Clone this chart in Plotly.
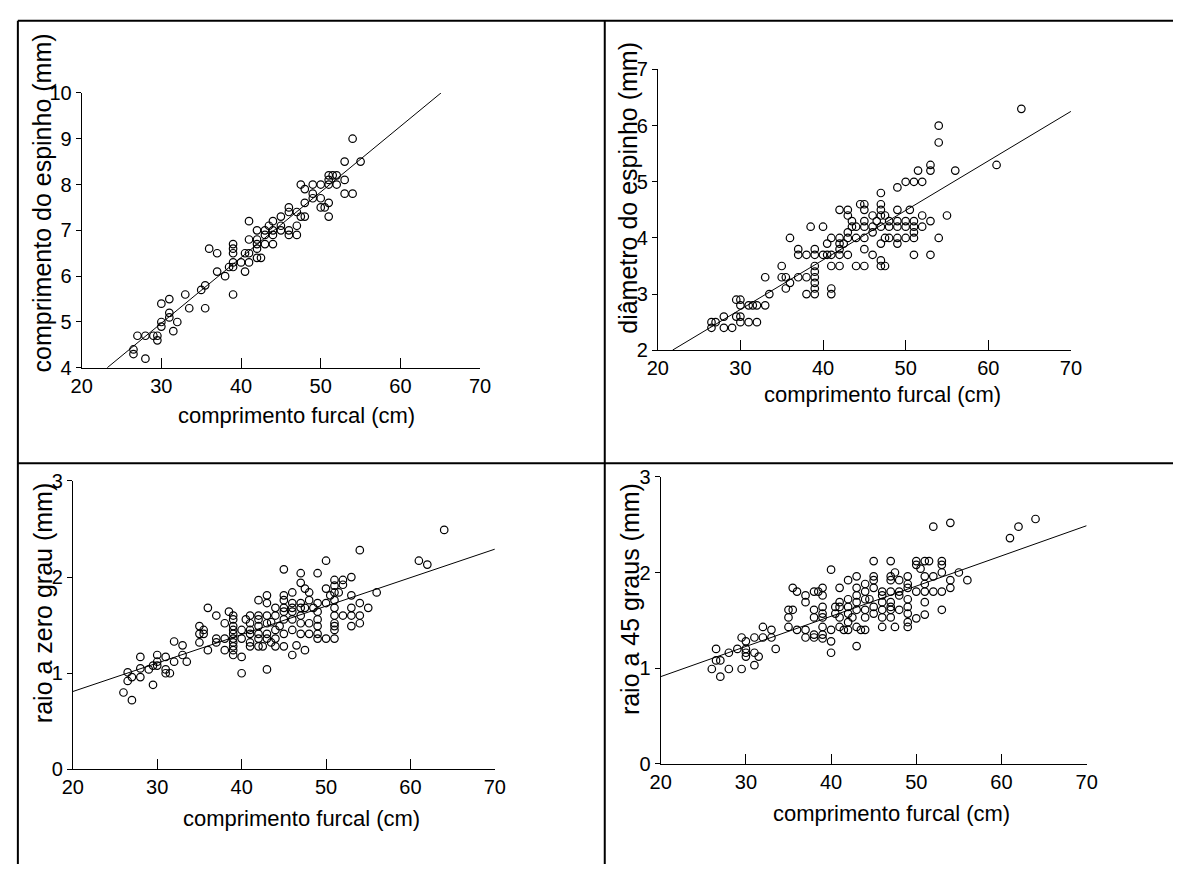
import plotly.graph_objects as go

# ---------------- data ----------------
# (comprimento furcal cm, comprimento do espinho mm)
spine_length = [(26.5,4.4),(26.5,4.3),(27,4.7),(28,4.7),(28,4.2),(29,4.7),(29.5,4.7),(29.5,4.6),(30,5.0),(30,4.9),(30,5.4),(31,5.5),(31,5.2),(31,5.1),(31.5,4.8),(32,5.0),(33,5.6),(33.5,5.3),(35,5.7),(35.5,5.8),(35.5,5.3),(36,6.6),(37,6.1),(37,6.5),(38,6.0),(38.5,6.2),(39,6.3),(39,6.2),(39,6.5),(39,6.6),(39,6.7),(39,5.6),(40,6.3),(40.5,6.5),(40.5,6.1),(41,6.3),(41,6.5),(41,6.8),(41,7.2),(42,7.0),(42,6.8),(42,6.7),(42,6.6),(42,6.4),(42.5,6.4),(43,7.0),(43,6.7),(43,6.9),(43.5,7.1),(44,7.2),(44,7.0),(44,6.9),(44,6.7),(45,7.3),(45,7.1),(45,7.0),(46,7.5),(46,7.4),(46,7.0),(46,6.9),(47,7.4),(47,7.1),(47,6.9),(47.5,8.0),(47.5,7.3),(48,7.9),(48,7.6),(48,7.3),(49,8.0),(49,7.8),(49,7.7),(50,8.0),(50,7.7),(50,7.5),(50.5,7.5),(51,8.2),(51,8.1),(51,8.0),(51,7.6),(51,7.3),(51.5,8.2),(52,8.2),(52,8.0),(53,8.5),(53,8.1),(53,7.8),(54,9.0),(54,7.8),(55,8.5)]

# (comprimento furcal cm, diâmetro do espinho mm)
spine_diameter = [(26.5,2.5),(26.5,2.4),(27,2.5),(28,2.6),(28,2.4),(29,2.4),(29.5,2.9),(29.5,2.6),(30,2.9),(30,2.8),(30,2.6),(30,2.5),(31,2.8),(31,2.5),(31.5,2.8),(32,2.8),(32,2.5),(33,3.3),(33,2.8),(33.5,3.0),(35,3.5),(35,3.3),(35.5,3.3),(35.5,3.1),(36,4.0),(36,3.2),(37,3.3),(37,3.8),(37,3.7),(38,3.7),(38,3.3),(38,3.0),(38.5,4.2),(39,3.8),(39,3.7),(39,3.5),(39,3.4),(39,3.3),(39,3.2),(39,3.1),(39,3.0),(40,4.2),(40,3.7),(40.5,3.9),(40.5,3.7),(41,4.0),(41,3.7),(41,3.5),(41,3.1),(41,3.0),(42,4.5),(42,4.0),(42,3.9),(42,3.8),(42,3.7),(42,3.5),(42.5,3.9),(43,4.5),(43,4.4),(43,4.1),(43,4.0),(43,3.7),(43.5,4.3),(43.5,4.2),(44,4.2),(44,4.0),(44,3.5),(44.5,4.6),(45,4.6),(45,4.5),(45,4.3),(45,4.2),(45,4.0),(45,3.8),(45,3.5),(46,4.4),(46,4.2),(46,4.1),(46,3.7),(46.5,4.3),(47,4.8),(47,4.6),(47,4.5),(47,4.4),(47,4.2),(47,3.9),(47,3.6),(47,3.5),(47.5,4.4),(47.5,4.0),(47.5,3.5),(48,4.3),(48,4.2),(48,4.0),(49,4.9),(49,4.5),(49,4.3),(49,4.2),(49,4.0),(49,3.9),(50,5.0),(50,4.3),(50,4.2),(50,4.0),(50.5,4.5),(51,5.0),(51,4.3),(51,4.2),(51,4.1),(51,4.0),(51,3.7),(51.5,5.2),(52,5.0),(52,4.4),(52,4.2),(53,5.3),(53,5.2),(53,4.3),(53,3.7),(54,6.0),(54,5.7),(54,4.0),(55,4.4),(56,5.2),(61,5.3),(64,6.3)]

# (comprimento furcal cm, raio a zero grau mm)
radius_0 = [(26,0.80),(26.5,1.01),(26.5,0.92),(27,0.96),(27,0.72),(28,1.17),(28,1.05),(28,0.96),(29,1.04),(29.5,0.88),(29.5,1.08),(30,1.19),(30,1.12),(30,1.08),(31,1.17),(31,1.04),(31,1.00),(31.5,1.00),(32,1.33),(32,1.12),(33,1.29),(33,1.19),(33.5,1.12),(35,1.49),(35,1.41),(35,1.32),(35.5,1.45),(35.5,1.41),(36,1.68),(36,1.24),(37,1.60),(37,1.36),(37,1.32),(38,1.52),(38,1.36),(38,1.24),(38.5,1.64),(39,1.60),(39,1.56),(39,1.49),(39,1.45),(39,1.41),(39,1.36),(39,1.32),(39,1.28),(39,1.24),(39,1.19),(40,1.45),(40,1.36),(40,1.17),(40,1.00),(40.5,1.56),(41,1.60),(41,1.52),(41,1.45),(41,1.41),(41,1.32),(41,1.28),(42,1.76),(42,1.60),(42,1.56),(42,1.49),(42,1.41),(42,1.36),(42,1.28),(42.5,1.28),(43,1.81),(43,1.73),(43,1.60),(43,1.52),(43,1.41),(43,1.36),(43,1.04),(43.5,1.53),(43.5,1.32),(44,1.68),(44,1.60),(44,1.45),(44,1.36),(44,1.28),(44.5,1.49),(45,2.08),(45,1.81),(45,1.76),(45,1.68),(45,1.64),(45,1.56),(45,1.41),(45,1.28),(46,1.84),(46,1.73),(46,1.68),(46,1.64),(46,1.56),(46,1.45),(46,1.19),(46.5,1.29),(47,2.04),(47,1.94),(47,1.73),(47,1.68),(47,1.60),(47,1.52),(47,1.41),(47.5,1.88),(47.5,1.68),(47.5,1.24),(48,1.84),(48,1.76),(48,1.52),(48,1.41),(48.5,1.68),(49,2.04),(49,1.73),(49,1.64),(49,1.56),(49,1.49),(49,1.41),(49,1.36),(50,2.17),(50,1.88),(50,1.73),(50,1.36),(50.5,1.81),(51,1.97),(51,1.91),(51,1.84),(51,1.76),(51,1.68),(51,1.60),(51,1.52),(51,1.49),(51,1.45),(51,1.36),(51.5,1.84),(52,1.97),(52,1.92),(52,1.60),(53,2.00),(53,1.81),(53,1.68),(53,1.60),(53,1.49),(54,2.28),(54,1.73),(54,1.60),(54,1.52),(55,1.68),(56,1.84),(61,2.17),(62,2.13),(64,2.49)]

# (comprimento furcal cm, raio a 45 graus mm)
radius_45 = [(26,0.99),(26.5,1.20),(26.5,1.08),(27,1.08),(27,0.91),(28,1.16),(28,0.99),(29,1.20),(29.5,1.32),(29.5,0.99),(30,1.28),(30,1.20),(30,1.16),(30,1.12),(31,1.32),(31,1.16),(31,1.03),(31.5,1.12),(32,1.43),(32,1.32),(33,1.40),(33,1.32),(33.5,1.20),(35,1.61),(35,1.53),(35,1.43),(35.5,1.84),(35.5,1.61),(36,1.80),(36,1.40),(37,1.76),(37,1.69),(37,1.40),(37,1.32),(38,1.80),(38,1.61),(38,1.53),(38,1.35),(38,1.32),(38.5,1.80),(39,1.84),(39,1.76),(39,1.64),(39,1.57),(39,1.53),(39,1.43),(39,1.35),(39,1.31),(40,2.03),(40,1.40),(40,1.28),(40,1.16),(40.5,1.64),(40.5,1.57),(41,1.84),(41,1.69),(41,1.64),(41,1.53),(41,1.43),(41.5,1.40),(42,1.92),(42,1.72),(42,1.64),(42,1.57),(42,1.48),(42,1.40),(42.5,1.53),(43,1.96),(43,1.84),(43,1.76),(43,1.69),(43,1.61),(43,1.43),(43,1.23),(43.5,1.40),(44,1.88),(44,1.80),(44,1.72),(44,1.61),(44,1.53),(44,1.40),(44.5,1.72),(45,2.12),(45,1.96),(45,1.92),(45,1.84),(45,1.64),(45,1.57),(46,1.80),(46,1.76),(46,1.69),(46,1.61),(46,1.53),(46,1.43),(47,2.12),(47,1.96),(47,1.92),(47,1.80),(47,1.69),(47,1.64),(47,1.61),(47,1.53),(47.5,2.00),(47.5,1.43),(48,1.92),(48,1.80),(48,1.76),(48,1.61),(49,1.96),(49,1.88),(49,1.84),(49,1.72),(49,1.64),(49,1.57),(49,1.48),(49,1.43),(50,2.12),(50,2.08),(50,1.80),(50,1.52),(50.5,2.04),(51,2.12),(51,1.96),(51,1.88),(51,1.80),(51,1.69),(51,1.56),(51.5,2.12),(52,2.48),(52,1.96),(52,1.80),(53,2.12),(53,2.08),(53,2.00),(53,1.80),(53,1.61),(54,2.52),(54,1.92),(54,1.84),(55,2.00),(56,1.92),(61,2.36),(62,2.48),(64,2.56)]

# fitted lines: (intercept, slope, x start, x end)
fit_spine_length = (0.678, 0.1432, 23.2, 65.1)
fit_spine_diameter = (0.080, 0.0882, 21.8, 70.0)
fit_radius_0 = (0.218, 0.0296, 20.0, 70.0)
fit_radius_45 = (0.278, 0.0316, 20.0, 70.0)

x_title = "comprimento furcal (cm)"
y_titles = ["comprimento do espinho (mm)", "diâmetro do espinho (mm)",
            "raio a zero grau (mm)", "raio a 45 graus (mm)"]
x_ticks = [20, 30, 40, 50, 60, 70]
y_ticks = [[4, 5, 6, 7, 8, 9, 10], [2, 3, 4, 5, 6, 7], [0, 1, 2, 3], [0, 1, 2, 3]]
y_ranges = [[4, 10], [2, 7], [0, 3], [0, 3]]

# ---------------- layout (pixels) ----------------
W, H = 1184, 875
FONT = "Liberation Sans, Arial, sans-serif"
# plot area: x_left, x_right, y_top, y_bottom (pixels)
boxes = [(72, 478, 84, 366), (659, 1080, 60, 348), (63, 493, 482, 778), (662, 1096, 478, 772)]
xtitle_pos = [(291, 415), (888, 393), (296, 828), (897, 823)]
ytitle_pos = [(32, 197), (629, 181), (32, 607), (631, 603)]

def px(x):
    return x / W

def py(y):
    return 1 - y / H

datasets = [spine_length, spine_diameter, radius_0, radius_45]
fits = [fit_spine_length, fit_spine_diameter, fit_radius_0, fit_radius_45]

fig = go.Figure()
annotations = []
for i, (pts, fit, box) in enumerate(zip(datasets, fits, boxes)):
    n = "" if i == 0 else str(i + 1)
    xs = [p[0] for p in pts]
    ys = [p[1] for p in pts]
    fig.add_trace(go.Scatter(
        x=xs, y=ys, mode="markers", xaxis="x" + n, yaxis="y" + n,
        marker=dict(symbol="circle-open", size=7.5, color="black", line=dict(width=1.2, color="black")),
        showlegend=False, cliponaxis=False, hoverinfo="x+y"))
    b0, b1, xa, xb = fit
    fig.add_trace(go.Scatter(
        x=[xa, xb], y=[b0 + b1 * xa, b0 + b1 * xb], mode="lines",
        xaxis="x" + n, yaxis="y" + n, line=dict(color="black", width=1),
        showlegend=False, hoverinfo="skip"))
    xl, xr, yt, yb = box
    fig.layout["xaxis" + n] = dict(
        domain=[px(xl), px(xr)], range=[20, 70], anchor="y" + n,
        tickvals=x_ticks, ticks="inside", ticklen=10, tickwidth=1, tickcolor="black",
        showline=True, linecolor="black", linewidth=1, showgrid=False, zeroline=False,
        tickfont=dict(family=FONT, size=20, color="black"), fixedrange=True)
    fig.layout["yaxis" + n] = dict(
        domain=[py(yb), py(yt)], range=y_ranges[i], anchor="x" + n,
        tickvals=y_ticks[i], ticks="outside", ticklen=5, tickwidth=1, tickcolor="black",
        showline=True, linecolor="black", linewidth=1, showgrid=False, zeroline=False,
        tickfont=dict(family=FONT, size=20, color="black"), fixedrange=True)
    tx, ty = xtitle_pos[i]
    annotations.append(dict(text=x_title, x=px(tx), y=py(ty), xref="paper", yref="paper",
                            showarrow=False, xanchor="center", yanchor="middle",
                            font=dict(family=FONT, size=22, color="black")))
    ux, uy = ytitle_pos[i]
    annotations.append(dict(text=y_titles[i], x=px(ux), y=py(uy), xref="paper", yref="paper",
                            showarrow=False, xanchor="center", yanchor="middle", textangle=-90,
                            font=dict(family=FONT, size=25, color="black")))

# frame lines of the 2x2 table
frame = [((7, 10), (W, 10)), ((7, 10), (7, H)), ((605, 10), (605, H)), ((7, 464), (W, 464))]
shapes = [dict(type="line", xref="paper", yref="paper", x0=px(a[0]), y0=py(a[1]),
               x1=px(b[0]), y1=py(b[1]), line=dict(color="black", width=2)) for a, b in frame]

fig.update_layout(width=W, height=H, margin=dict(l=0, r=0, t=0, b=0),
                  paper_bgcolor="white", plot_bgcolor="white",
                  annotations=annotations, shapes=shapes, showlegend=False)
fig.write_html("out.html", config={"displayModeBar": False})
